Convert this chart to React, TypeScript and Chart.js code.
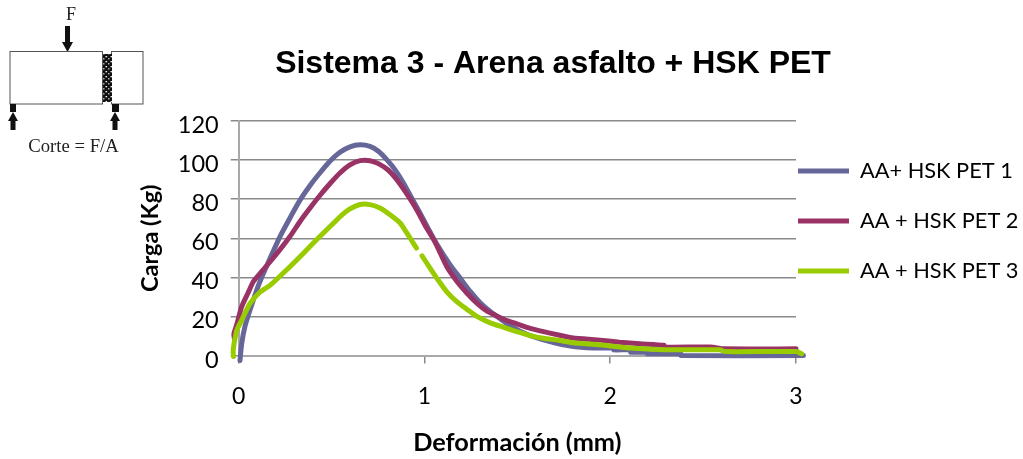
import React, { useEffect, useRef } from "react";
import { Chart, registerables } from "chart.js";

Chart.register(...registerables);

const chartTitle = "Sistema 3 - Arena asfalto + HSK PET";
const xAxisTitle = "Deformación (mm)";
const yAxisTitle = "Carga (Kg)";
const seriesNames = ["AA+ HSK PET 1", "AA + HSK PET 2", "AA + HSK PET 3"];
const seriesColors = ["#666699", "#993366", "#99CC00"];

const series1X = [0.007, 0.016, 0.034, 0.06, 0.097, 0.124, 0.17, 0.223, 0.276, 0.33, 0.384, 0.438, 0.492, 0.545, 0.599, 0.653, 0.707, 0.752, 0.797, 0.842, 0.887, 0.931, 0.976, 1.021, 1.066, 1.138, 1.192, 1.246, 1.3, 1.354, 1.408, 1.461, 1.515, 1.569, 1.695, 1.785, 1.91, 2.02, 2.02, 2.11, 2.11, 2.2, 2.2, 2.38, 2.38, 3.04];
const series1Y = [-2.5, 6, 15, 23, 33.5, 40, 50, 61, 70.4, 79.5, 87, 93.5, 99.5, 104, 106.8, 107.8, 107, 104.5, 100.2, 95, 88.3, 80.6, 72.9, 64.8, 57, 46.4, 39.6, 32.8, 27, 22.5, 18.8, 15.3, 12.4, 10.2, 6.6, 4.8, 3.8, 3.8, 2.9, 2.9, 1.7, 1.7, 0.9, 0.9, 0, 0];

const series2X = [-0.022, -0.026, -0.01, 0.016, 0.05, 0.08, 0.124, 0.187, 0.276, 0.33, 0.384, 0.438, 0.492, 0.545, 0.599, 0.653, 0.707, 0.752, 0.806, 0.851, 0.896, 0.94, 0.976, 1.01, 1.057, 1.12, 1.174, 1.228, 1.282, 1.335, 1.389, 1.443, 1.497, 1.569, 1.641, 1.722, 1.8, 1.93, 2.05, 2.16, 2.29, 2.29, 2.54, 2.61, 3.0];
const series2Y = [8, 11, 16, 25, 32, 38, 43, 50, 60.9, 68.6, 75.5, 82, 88, 93.4, 97.6, 99.7, 99.7, 98.2, 94.8, 90, 84, 77.5, 71.5, 65.5, 58, 45.5, 38, 32, 26.8, 22.8, 20.2, 17.9, 16.2, 13.9, 12.2, 10.5, 9, 8, 6.8, 6, 5.2, 4.3, 4.3, 3.4, 3.4];

const series3X = [-0.028, -0.03, -0.025, -0.01, 0.016, 0.06, 0.115, 0.17, 0.26, 0.35, 0.438, 0.492, 0.545, 0.599, 0.653, 0.707, 0.761, 0.815, 0.869, 0.905, 0.95, 0.957, 0.97, 0.987, 1.03, 1.066, 1.12, 1.174, 1.228, 1.282, 1.354, 1.426, 1.497, 1.569, 1.641, 1.722, 1.8, 1.946, 2.11, 2.29, 2.59, 2.62, 3.0, 3.03];
const series3Y = [-0.5, 2, 6, 13, 18, 26.5, 32.5, 36, 44, 52.5, 61, 66, 71, 75, 77.3, 77.2, 75.5, 72, 67.8, 62.7, 56, 55, null, 51, 44.7, 39.6, 32.6, 27.6, 23.7, 20, 16.7, 14.4, 12.2, 10.2, 8.8, 7.8, 6.5, 5.5, 3.8, 3, 2.9, 2, 2, 0.9];

const seriesX = [series1X, series2X, series3X];
const seriesY = [series1Y, series2Y, series3Y];
const drawOrder = [2, 1, 0];

const BODY_FONT = "Lato, 'Open Sans', sans-serif";
const grey = "#8a8a8a";

const placeBoxes = {
  id: "placeBoxes",
  afterLayout(chart: any) {
    const t = chart.titleBlock;
    if (t) {
      t.left = 274;
      t.right = 832;
    }
    const l = chart.legend;
    if (l) {
      l.left = 769.8;
      l.right = 1023;
      l.top = 131.9;
    }
  },
};

function Diagram() {
  const bar = { fill: "#fff", stroke: "#555", strokeWidth: 1 };
  return (
    <svg
      width={160}
      height={160}
      style={{ position: "absolute", left: 0, top: 0 }}
    >
      <defs>
        <pattern id="speckle" width="5" height="5" patternUnits="userSpaceOnUse">
          <rect width="5" height="5" fill="#111" />
          <rect x="0.5" y="1" width="1.6" height="1.3" fill="#eee" />
          <rect x="3" y="3.2" width="1.5" height="1.2" fill="#ccc" />
        </pattern>
      </defs>
      <text x={71} y={20} textAnchor="middle" fontFamily="'Liberation Serif', serif" fontSize={18} fill="#222">F</text>
      <rect x={65} y={26} width={5} height={18} fill="#111" />
      <polygon points="62,42 73,42 67.5,52" fill="#111" />
      <rect x={10} y={51.5} width={92.5} height={52.5} {...bar} />
      <rect x={111.5} y={51.5} width={31.5} height={52.5} {...bar} />
      <rect x={103} y={54} width={9} height={48} fill="url(#speckle)" />
      <rect x={10} y={104} width={6} height={8} fill="#111" />
      <rect x={112} y={104} width={7} height={8} fill="#111" />
      <polygon points="13,112 18,121 8,121" fill="#111" />
      <rect x={10.5} y={120} width={5} height={10} fill="#111" />
      <polygon points="115,112 120,121 110,121" fill="#111" />
      <rect x={112.5} y={120} width={5} height={10} fill="#111" />
      <text x={73.5} y={152} textAnchor="middle" fontFamily="'Liberation Serif', serif" fontSize={18.7} fill="#222">Corte = F/A</text>
    </svg>
  );
}

export default function App() {
  const ref = useRef<HTMLCanvasElement>(null);
  useEffect(() => {
    const chart = new Chart(ref.current as HTMLCanvasElement, {
      type: "scatter",
      plugins: [placeBoxes],
      data: {
        datasets: seriesNames.map((name, i) => ({
          label: name,
          data: seriesX[i].map((x, j) => ({ x, y: seriesY[i][j] })),
          showLine: true,
          borderColor: seriesColors[i],
          backgroundColor: seriesColors[i],
          borderWidth: 5,
          pointRadius: 0,
          tension: 0.2,
          capBezierPoints: false,
          spanGaps: false,
          clip: false,
          order: drawOrder[i],
          pointStyle: "line",
          borderCapStyle: "round",
          borderJoinStyle: "round",
        })),
      },
      options: {
        responsive: false,
        animation: false,
        layout: { padding: 0 },
        plugins: {
          tooltip: { enabled: false },
          title: {
            display: true,
            text: chartTitle,
            color: "#000",
            font: { family: "'Liberation Sans', Arial, sans-serif", size: 32, weight: "bold", lineHeight: 1.2 },
            padding: { top: 44.8, bottom: 37.8 },
          },
          legend: {
            display: true,
            position: "right",
            align: "start",
            maxWidth: 227,
            labels: {
              usePointStyle: true,
              pointStyle: "line",
              pointStyleWidth: 51,
              padding: 28.2,
              color: "#000",
              font: { family: BODY_FONT, size: 21.8 },
              sort: (a: any, b: any) => a.datasetIndex - b.datasetIndex,
            },
          },
        },
        scales: {
          x: {
            type: "linear",
            min: 0,
            max: 3,
            afterFit: (s: any) => { s.height = 103.5; },
            afterBuildTicks: (s: any) => { s.ticks = [0, 1, 2, 3].map((value) => ({ value })); },
            grid: { drawOnChartArea: false, drawTicks: true, tickLength: 8, color: grey, lineWidth: 1.5 },
            border: { color: "#a8a8a8", width: 2 },
            ticks: { color: "#000", padding: 19, maxRotation: 0, font: { family: BODY_FONT, size: 23 } },
            title: {
              display: true,
              text: xAxisTitle,
              color: "#000",
              font: { family: BODY_FONT, size: 25.3, weight: "bold" },
              padding: { top: 0, bottom: 1 },
            },
          },
          y: {
            type: "linear",
            min: 0,
            max: 120,
            afterFit: (s: any) => { s.width = 238.7; },
            grid: { drawOnChartArea: true, drawTicks: true, tickLength: 8, color: grey, lineWidth: 1.5 },
            border: { color: "#a8a8a8", width: 2 },
            ticks: {
              stepSize: 20,
              color: "#000",
              padding: 12,
              font: { family: BODY_FONT, size: 23.5, lineHeight: "9px" },
              callback: (v: any) => ["", String(v)],
            },
            title: {
              display: true,
              text: yAxisTitle,
              color: "#000",
              font: { family: BODY_FONT, size: 23.5, weight: "bold" },
              padding: { top: 136, bottom: 0 },
            },
          },
        },
      },
    } as any);
    return () => chart.destroy();
  }, []);
  return (
    <div style={{ position: "absolute", left: 0, top: 0, width: 1023, height: 459, background: "#fff", overflow: "hidden" }}>
      <canvas ref={ref} width={1023} height={459} style={{ display: "block" }} />
      <Diagram />
    </div>
  );
}
